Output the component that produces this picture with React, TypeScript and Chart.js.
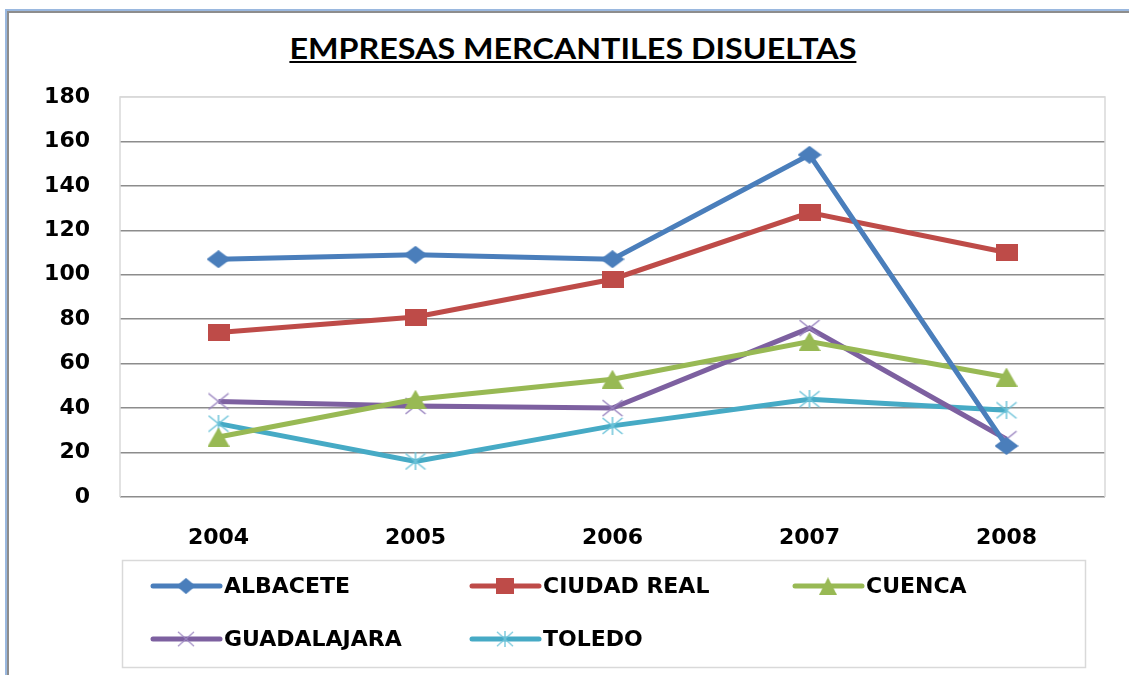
import React, { useEffect, useLayoutEffect, useRef } from "react";
import { Chart, registerables } from "chart.js";

Chart.register(...registerables);

const years = ["2004", "2005", "2006", "2007", "2008"];
const seriesNames = ["ALBACETE", "CIUDAD REAL", "CUENCA", "GUADALAJARA", "TOLEDO"];
const albacete = [107, 109, 107, 154, 23];
const ciudadReal = [74, 81, 98, 128, 110];
const cuenca = [27, 44, 53, 70, 54];
const guadalajara = [43, 41, 40, 76, 26];
const toledo = [33, 16, 32, 44, 39];
const yTicks = { min: 0, max: 180, step: 20 };
const title = "EMPRESAS MERCANTILES DISUELTAS";

const colors = ["#4a7ebb", "#be4b48", "#98b954", "#7d60a0", "#46aac5"];
const markerColors = ["#4a7ebb", "#be4b48", "#98b954", "#9a85c0", "#6cc3d9"];
const kinds = ["diamond", "square", "triangle", "cross", "star"];

function makeMarker(kind: string, color: string, w: number, h: number) {
  const c = document.createElement("canvas");
  c.width = w;
  c.height = h;
  const ctx = c.getContext("2d")!;
  ctx.fillStyle = color;
  ctx.strokeStyle = color;
  ctx.lineWidth = 1.5;
  if (kind === "diamond") {
    ctx.beginPath();
    ctx.moveTo(w / 2, 0);
    ctx.lineTo(w, h / 2);
    ctx.lineTo(w / 2, h);
    ctx.lineTo(0, h / 2);
    ctx.closePath();
    ctx.fill();
  } else if (kind === "square") {
    ctx.fillRect(0, 0, w, h);
  } else if (kind === "triangle") {
    ctx.beginPath();
    ctx.moveTo(w / 2, 0);
    ctx.lineTo(w, h);
    ctx.lineTo(0, h);
    ctx.closePath();
    ctx.fill();
  } else if (kind === "cross") {
    ctx.beginPath();
    ctx.moveTo(1, 1);
    ctx.lineTo(w - 1, h - 1);
    ctx.moveTo(w - 1, 1);
    ctx.lineTo(1, h - 1);
    ctx.stroke();
  } else {
    ctx.beginPath();
    ctx.moveTo(1, 1);
    ctx.lineTo(w - 1, h - 1);
    ctx.moveTo(w - 1, 1);
    ctx.lineTo(1, h - 1);
    ctx.moveTo(w / 2, 0);
    ctx.lineTo(w / 2, h);
    ctx.stroke();
  }
  return c;
}

const legendPlugin = {
  id: "customLegend",
  afterDraw(chart: any) {
    const ctx = chart.ctx;
    ctx.save();
    ctx.strokeStyle = "#d9d9d9";
    ctx.lineWidth = 1.5;
    ctx.strokeRect(122.5, 560.5, 963, 107);
    const cols = [153, 472, 795];
    const rows = [586, 639];
    chart.data.datasets.forEach((ds: any, i: number) => {
      const x0 = cols[i % 3];
      const y = rows[Math.floor(i / 3)];
      ctx.strokeStyle = ds.borderColor;
      ctx.lineWidth = 5;
      ctx.lineCap = "round";
      ctx.beginPath();
      ctx.moveTo(x0, y);
      ctx.lineTo(x0 + 67, y);
      ctx.stroke();
      const img = ds.legendMarker;
      const w = img.width * 0.8;
      const h = img.height * 0.9;
      ctx.drawImage(img, x0 + 33 - w / 2, y - h / 2, w, h);
      ctx.fillStyle = "#000";
      ctx.font = 'bold 22px "DejaVu Sans"';
      ctx.textBaseline = "middle";
      ctx.fillText(ds.label, x0 + 71, y + 1);
    });
    ctx.restore();
  },
};

const plotBorderPlugin = {
  id: "plotBorder",
  beforeDatasetsDraw(chart: any) {
    const { ctx, chartArea } = chart;
    ctx.save();
    ctx.strokeStyle = "#d9d9d9";
    ctx.lineWidth = 1.5;
    ctx.beginPath();
    ctx.moveTo(chartArea.left, chartArea.bottom);
    ctx.lineTo(chartArea.left, chartArea.top);
    ctx.lineTo(chartArea.right, chartArea.top);
    ctx.lineTo(chartArea.right, chartArea.bottom);
    ctx.stroke();
    ctx.restore();
  },
};

export default function App() {
  const ref = useRef<HTMLCanvasElement>(null);
  const titleRef = useRef<HTMLSpanElement>(null);

  useLayoutEffect(() => {
    const el = titleRef.current;
    if (el) {
      const w = el.getBoundingClientRect().width;
      if (w > 0) el.style.transform = `scaleX(${567 / w})`;
    }
  }, []);

  useEffect(() => {
    const values = [albacete, ciudadReal, cuenca, guadalajara, toledo];
    const sizes = [
      [24, 18],
      [22, 17],
      [22, 19],
      [22, 18],
      [22, 18],
    ];
    const datasets = values.map((v, i) => ({
      label: seriesNames[i],
      data: v,
      borderColor: colors[i],
      backgroundColor: colors[i],
      borderWidth: 5,
      pointStyle: makeMarker(kinds[i], markerColors[i], sizes[i][0], sizes[i][1]),
      legendMarker: makeMarker(kinds[i], markerColors[i], sizes[i][0], sizes[i][1]),
      pointRadius: 10,
      tension: 0,
    }));
    const chart = new Chart(ref.current!, {
      type: "line",
      data: { labels: years, datasets: datasets as any },
      plugins: [plotBorderPlugin, legendPlugin],
      options: {
        animation: false,
        responsive: false,
        layout: { padding: { left: 0, top: 97, right: 24, bottom: 118 } },
        plugins: {
          legend: { display: false },
          title: { display: false },
          tooltip: { enabled: false },
        },
        scales: {
          x: {
            offset: true,
            grid: { display: false, drawTicks: false },
            border: { display: false },
            ticks: {
              color: "#000",
              font: { family: "DejaVu Sans", weight: "bold", size: 22 },
              padding: 28,
              maxRotation: 0,
            },
            afterFit: (s: any) => {
              s.height = 60;
            },
          },
          y: {
            min: yTicks.min,
            max: yTicks.max,
            grid: {
              drawTicks: false,
              lineWidth: 1.5,
              color: (c: any) => (c.tick && c.tick.value === yTicks.max ? "#d9d9d9" : "#8c8c8c"),
            },
            border: { display: false },
            ticks: {
              stepSize: yTicks.step,
              color: "#000",
              font: { family: "DejaVu Sans", weight: "bold", size: 22 },
              padding: 30,
            },
            afterFit: (s: any) => {
              s.width = 120;
            },
          },
        },
      } as any,
    });
    return () => chart.destroy();
  }, []);

  return (
    <div style={{ position: "fixed", left: 0, top: 0, width: 1129, height: 675, background: "#fff", overflow: "hidden" }}>
      <div
        style={{
          position: "absolute",
          left: 5,
          top: 9,
          width: 1200,
          height: 800,
          borderLeft: "2px solid #9ab8df",
          borderTop: "2px solid #9ab8df",
        }}
      >
        <div
          style={{
            position: "absolute",
            left: 0,
            top: 0,
            width: 1200,
            height: 800,
            borderLeft: "2px solid #8d8d8d",
            borderTop: "2px solid #8d8d8d",
          }}
        />
      </div>
      <div
        style={{
          position: "absolute",
          left: 0,
          width: 1146,
          top: 31,
          textAlign: "center",
          lineHeight: "34px",
        }}
      >
        <span
          ref={titleRef}
          style={{
            display: "inline-block",
            font: 'bold 28px "Lato", "Liberation Sans", sans-serif',
            textDecoration: "underline",
            color: "#000",
            whiteSpace: "nowrap",
            transformOrigin: "center",
          }}
        >
          {title}
        </span>
      </div>
      <canvas ref={ref} width={1129} height={675} style={{ position: "absolute", left: 0, top: 0, display: "block" }} />
    </div>
  );
}
